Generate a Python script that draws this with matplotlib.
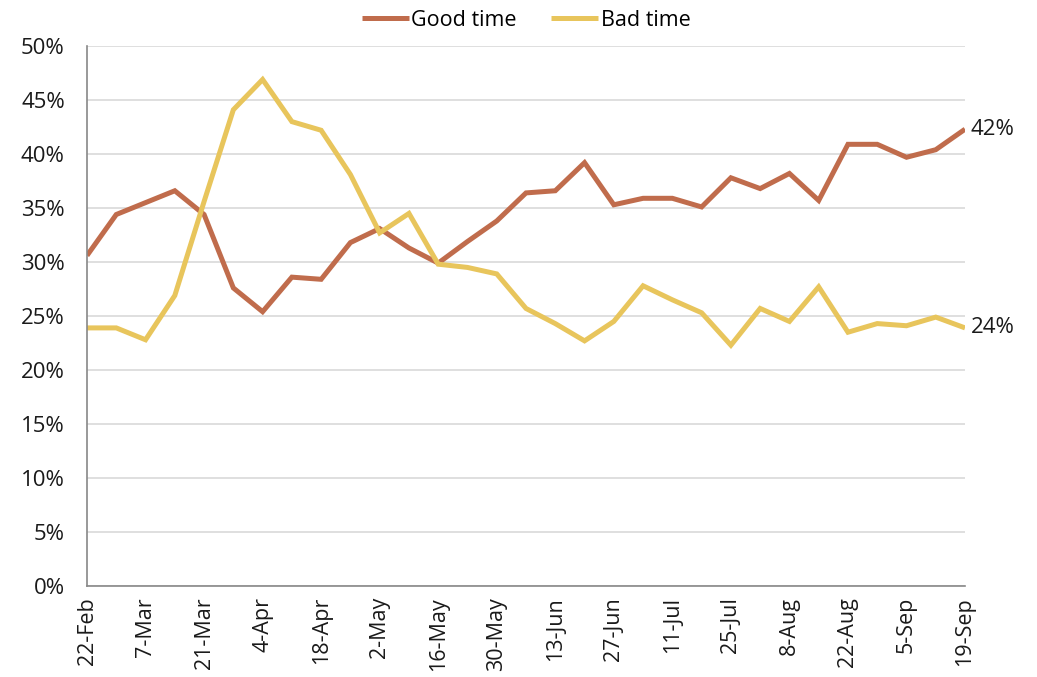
import matplotlib
matplotlib.use("Agg")
import matplotlib.pyplot as plt
from matplotlib.ticker import FuncFormatter, FixedLocator

plt.rcParams['font.family'] = ['Open Sans', 'DejaVu Sans']

# Weekly survey dates (22-Feb to 19-Sep)
weeks = ["22-Feb", "29-Feb", "7-Mar", "14-Mar", "21-Mar", "28-Mar", "4-Apr", "11-Apr",
         "18-Apr", "25-Apr", "2-May", "9-May", "16-May", "23-May", "30-May", "6-Jun",
         "13-Jun", "20-Jun", "27-Jun", "4-Jul", "11-Jul", "18-Jul", "25-Jul", "1-Aug",
         "8-Aug", "15-Aug", "22-Aug", "29-Aug", "5-Sep", "12-Sep", "19-Sep"]

good_time = [30.6, 34.4, 35.5, 36.6, 34.4, 27.6, 25.4, 28.6, 28.4, 31.8, 33.1,
             31.3, 29.9, 31.9, 33.8, 36.4, 36.6, 39.2, 35.3, 35.9, 35.9, 35.1,
             37.8, 36.8, 38.2, 35.7, 40.9, 40.9, 39.7, 40.4, 42.3]

bad_time = [23.9, 23.9, 22.8, 26.9, 35.6, 44.1, 46.9, 43.0, 42.2, 38.1, 32.7,
            34.5, 29.8, 29.5, 28.9, 25.7, 24.3, 22.7, 24.5, 27.8, 26.5, 25.3,
            22.3, 25.7, 24.5, 27.7, 23.5, 24.3, 24.1, 24.9, 23.9]

series_names = ["Good time", "Bad time"]
colors = ["#C06C4C", "#E8C55C"]

fig = plt.figure(figsize=(10.37, 6.77), dpi=100)
ax = fig.add_axes([0.0839, 0.1344, 0.8467, 0.7976])

x = list(range(len(weeks)))
for vals, name, col in zip([good_time, bad_time], series_names, colors):
    ax.plot(x, vals, color=col, lw=3.6, label=name, solid_joinstyle='miter',
            solid_capstyle='butt')
    ax.annotate(f"{round(vals[-1])}%", xy=(x[-1], vals[-1]), xytext=(4, 0),
                textcoords='offset points', va='center', ha='left',
                fontsize=16, color='#1a1a1a')

ax.set_xlim(0, len(weeks) - 1)
ax.set_ylim(0, 50)
ax.yaxis.set_major_locator(FixedLocator(range(0, 51, 5)))
ax.yaxis.set_major_formatter(FuncFormatter(lambda v, p: f"{v:.0f}%"))
ax.set_xticks(x[::2])
ax.set_xticklabels(weeks[::2], rotation=90)

ax.grid(axis='y', color='#d9d9d9', lw=1.2)
ax.set_axisbelow(True)
for s in ['top', 'right']:
    ax.spines[s].set_visible(False)
for s in ['left', 'bottom']:
    ax.spines[s].set_color('#888888')
    ax.spines[s].set_linewidth(1.2)
ax.tick_params(axis='y', length=0, labelsize=16, labelcolor='#1a1a1a', pad=16)
ax.tick_params(axis='x', length=0, labelsize=15.5, labelcolor='#1a1a1a', pad=8)

leg = ax.legend(loc='lower center', bbox_to_anchor=(0.5, 1.0), ncol=2, frameon=False,
                fontsize=15.5, handlelength=2.2, handletextpad=0.1, columnspacing=1.6,
                borderaxespad=0.3)

fig.savefig("out.png", dpi=100)
